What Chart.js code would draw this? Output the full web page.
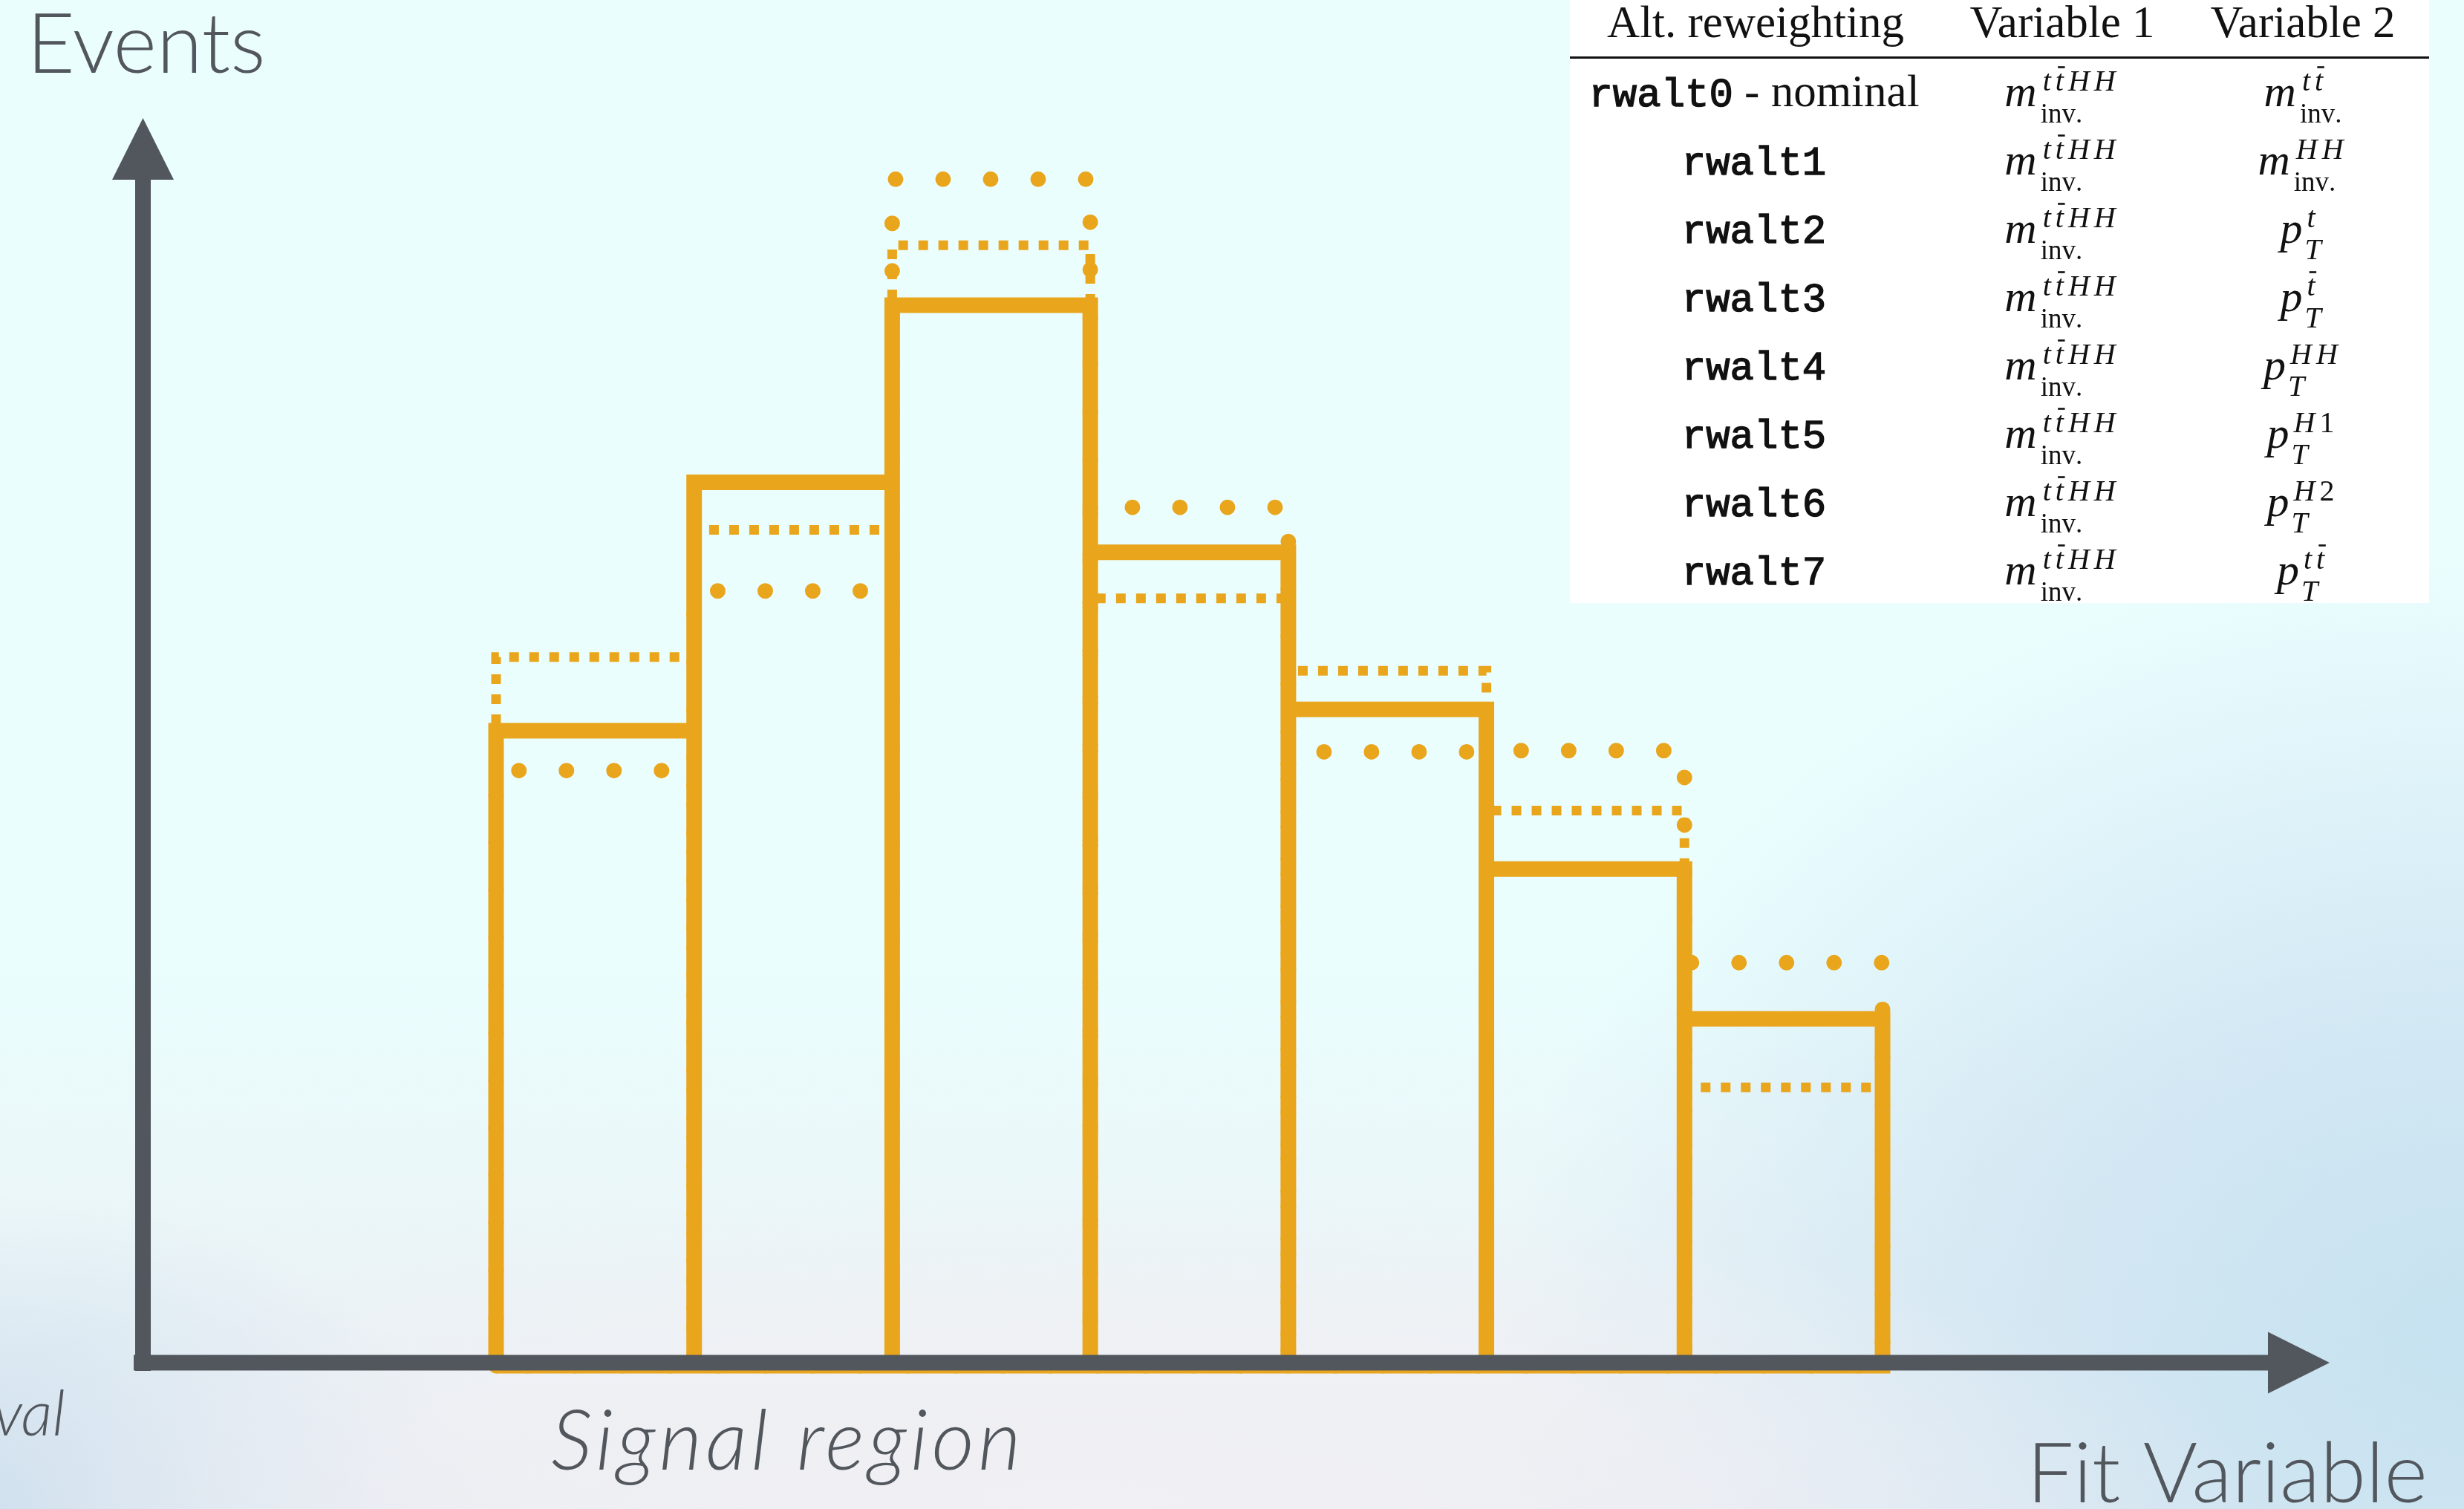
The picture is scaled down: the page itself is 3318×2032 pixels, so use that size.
<!DOCTYPE html>
<html><head><meta charset="utf-8">
<script src="https://cdn.jsdelivr.net/npm/chart.js@4.4.1/dist/chart.umd.min.js"></script>
<style>
html,body{margin:0;padding:0;width:3318px;height:2032px;overflow:hidden;}
body{
  background:
    radial-gradient(ellipse 1600px 420px at 1450px 2032px, rgba(241,240,244,0.95) 0%, rgba(241,240,244,0.6) 55%, rgba(241,240,244,0) 100%),
    radial-gradient(ellipse 1300px 1050px at 3318px 1800px, rgba(198,226,240,1) 0%, rgba(206,228,242,0.8) 45%, rgba(220,232,246,0) 100%),
    radial-gradient(ellipse 650px 420px at 0px 2032px, rgba(204,223,238,1) 0%, rgba(208,226,240,0.5) 55%, rgba(208,226,240,0) 100%),
    linear-gradient(to bottom, #eafefe 0%, #eafefe 64%, #ebf3f6 86%, #e8ecf2 100%);
}
#wrap{position:absolute;left:0;top:0;width:3318px;height:2032px;}
</style></head><body>
<div id="wrap"><canvas id="c" width="3318" height="2032"></canvas></div>
<script>
// ---- data ----
const binEdges = [0, 1, 2, 3, 4, 5, 6, 7];
const nominalSolid = [50.9, 70.8, 85.0, 65.2, 52.6, 39.8, 27.8];
const altDashed   = [56.8, 67.0, 89.8, 61.5, 55.7, 44.5, 22.3];
const altDotted   = [47.7, 62.1, 95.1, 68.8, 49.2, 49.3, 32.3];
const yAxisTitle = 'Events';
const xAxisTitle = 'Fit Variable';
const regionLabels = ['val', 'Signal region'];
const tableHeader = ['Alt. reweighting', 'Variable 1', 'Variable 2'];
const rwNames = ['rwalt0', 'rwalt1', 'rwalt2', 'rwalt3', 'rwalt4', 'rwalt5', 'rwalt6', 'rwalt7'];
const rwSuffix = [' - nominal', '', '', '', '', '', '', ''];
// [main, superscript, subscript]
const variable1 = Array(8).fill(['m', 'tt\u0304HH', 'inv.']);
const variable2 = [
  ['m', 'tt\u0304', 'inv.'],
  ['m', 'HH', 'inv.'],
  ['p', 't', 'T'],
  ['p', 't\u0304', 'T'],
  ['p', 'HH', 'T'],
  ['p', 'H1', 'T'],
  ['p', 'H2', 'T'],
  ['p', 'tt\u0304', 'T']
];

function outline(h) {
  const pts = [{x: binEdges[0], y: 0}];
  for (let i = 0; i < h.length; i++) {
    pts.push({x: binEdges[i], y: h[i]}, {x: binEdges[i + 1], y: h[i]}, {x: binEdges[i + 1], y: 0});
  }
  pts.push({x: binEdges[0], y: 0});
  return pts;
}

const ORANGE = '#e9a61d';
const GREY = '#52565d';

// ---- drawing helpers for the table ----
const SERIF = '"Liberation Serif", "Times New Roman", serif';
function scriptTokens(s) {
  const out = [];
  for (let i = 0; i < s.length; i++) {
    const ch = s[i];
    if (ch === '\u0304') { if (out.length) out[out.length - 1].bar = true; continue; }
    out.push({ch, bar: false});
  }
  return out;
}
function scriptFont(ch, size, forceUpright) {
  const upright = forceUpright || /[0-9.]/.test(ch);
  return (upright ? '' : 'italic ') + size + 'px ' + SERIF;
}
function tokAdvance(ctx, t, size, upright) {
  ctx.font = scriptFont(t.ch, size, upright);
  const w = ctx.measureText(t.ch).width;
  return upright ? w : w + 6;
}
function measureScript(ctx, s, size, upright) {
  let w = 0;
  for (const t of scriptTokens(s)) w += tokAdvance(ctx, t, size, upright);
  return w;
}
function drawScript(ctx, s, x, y, size, upright) {
  for (const t of scriptTokens(s)) {
    const adv = tokAdvance(ctx, t, size, upright);
    ctx.font = scriptFont(t.ch, size, upright);
    const w = ctx.measureText(t.ch).width;
    ctx.fillText(t.ch, x, y);
    if (t.bar) ctx.fillRect(x + w * 0.3, y - size * 0.82, w * 0.85, 2.6);
    x += adv;
  }
}
function drawMath(ctx, cx, base, spec) {
  const [main, sup, sub] = spec;
  const mainSize = 60, supSize = 40;
  const subUpright = (sub === 'inv.');
  const subSize = subUpright ? 37 : 40;
  ctx.font = 'italic ' + mainSize + 'px ' + SERIF;
  const mw = ctx.measureText(main).width;
  const supW = measureScript(ctx, sup, supSize, false);
  const subW = measureScript(ctx, sub, subSize, subUpright);
  const gap = main === 'm' ? 5 : 3;
  const total = mw + gap + Math.max(supW + 3, subW);
  const x0 = cx - total / 2;
  ctx.font = 'italic ' + mainSize + 'px ' + SERIF;
  ctx.fillText(main, x0, base);
  drawScript(ctx, sup, x0 + mw + gap + 3, base - 21, supSize, false);
  drawScript(ctx, sub, x0 + mw + gap, base + 22, subSize, subUpright);
}

const decor = {
  id: 'decor',
  afterDatasetsDraw(chart) {
    const ctx = chart.ctx;
    const ys = chart.scales.y, xs = chart.scales.x;
    const axisY = ys.getPixelForValue(0) - 4;   // x-axis centre
    const axisX = xs.getPixelForValue(0) - 475.5; // y-axis centre
    ctx.save();
    ctx.fillStyle = GREY;
    // y axis
    ctx.fillRect(axisX - 10.5, 240, 21, axisY + 11 - 240);
    ctx.beginPath();
    ctx.moveTo(axisX, 159); ctx.lineTo(axisX - 41.5, 242); ctx.lineTo(axisX + 41.5, 242); ctx.closePath(); ctx.fill();
    // x axis
    ctx.fillRect(axisX - 12.5, axisY - 10.5, 3056 - (axisX - 12.5), 21);
    ctx.beginPath();
    ctx.moveTo(3054, axisY - 41.5); ctx.lineTo(3137, axisY); ctx.lineTo(3054, axisY + 41.5); ctx.closePath(); ctx.fill();

    // labels
    ctx.textBaseline = 'alphabetic';
    ctx.font = '300 112px Lato';
    ctx.textAlign = 'left';
    ctx.fillText(yAxisTitle, 36, 98);
    ctx.textAlign = 'right';
    ctx.fillText(xAxisTitle, 3269, 2023);
    ctx.font = 'italic 300 112px Lato';
    ctx.textAlign = 'left';
    ctx.letterSpacing = '5px';
    ctx.fillText(regionLabels[1], 742, 1979);
    ctx.letterSpacing = '0px';
    ctx.font = 'italic 300 84px Lato';
    ctx.textAlign = 'right';
    ctx.fillText(regionLabels[0], 88, 1933);

    // table
    ctx.fillStyle = '#ffffff';
    ctx.fillRect(2114, 0, 1157, 812);
    ctx.fillStyle = '#111111';
    ctx.fillRect(2114, 76, 1157, 3);
    ctx.textAlign = 'center';
    ctx.font = '61px ' + SERIF;
    const colC = [2364, 2777, 3101];
    tableHeader.forEach((t, i) => ctx.fillText(t, colC[i], 50));
    const MONO = '54px "Liberation Mono", monospace';
    ctx.textAlign = 'left';
    ctx.strokeStyle = '#111111';
    ctx.lineWidth = 1.4;
    for (let i = 0; i < rwNames.length; i++) {
      const base = 143 + 92 * i;
      ctx.font = MONO;
      const w1 = ctx.measureText(rwNames[i]).width;
      ctx.font = '61px ' + SERIF;
      const w2 = rwSuffix[i] ? ctx.measureText(rwSuffix[i]).width : 0;
      const x0 = colC[0] - 2 - (w1 + w2) / 2;
      ctx.font = MONO;
      ctx.fillText(rwNames[i], x0, base);
      ctx.strokeText(rwNames[i], x0, base);
      if (w2) { ctx.font = '61px ' + SERIF; ctx.fillText(rwSuffix[i], x0 + w1, base); }
      drawMath(ctx, colC[1], base, variable1[i]);
      drawMath(ctx, colC[2], base, variable2[i]);
    }
    ctx.restore();
  }
};

Chart.defaults.font.family = 'Lato';
new Chart(document.getElementById('c'), {
  type: 'line',
  data: {
    datasets: [
      {label: 'nominal', data: outline(nominalSolid), borderColor: ORANGE, borderWidth: 21,
       borderJoinStyle: 'miter', borderCapStyle: 'butt', clip: false, fill: false},
      {label: 'alt dashed', data: outline(altDashed), borderColor: ORANGE, borderWidth: 13,
       borderDash: [13, 14], borderCapStyle: 'butt', clip: false, fill: false},
      {label: 'alt dotted', data: outline(altDotted), borderColor: ORANGE, borderWidth: 21,
       borderDash: [0.01, 64], borderCapStyle: 'round', clip: false, fill: false}
    ]
  },
  options: {
    responsive: false,
    devicePixelRatio: 1,
    animation: false,
    events: [],
    layout: {padding: {left: 668, right: 783, top: 159, bottom: 193}},
    elements: {point: {radius: 0}, line: {tension: 0}},
    plugins: {legend: {display: false}, tooltip: {enabled: false}},
    scales: {
      x: {type: 'linear', min: 0, max: 7, display: false},
      y: {type: 'linear', min: 0, max: 100, display: false}
    }
  },
  plugins: [decor]
});
</script>
</body></html>
